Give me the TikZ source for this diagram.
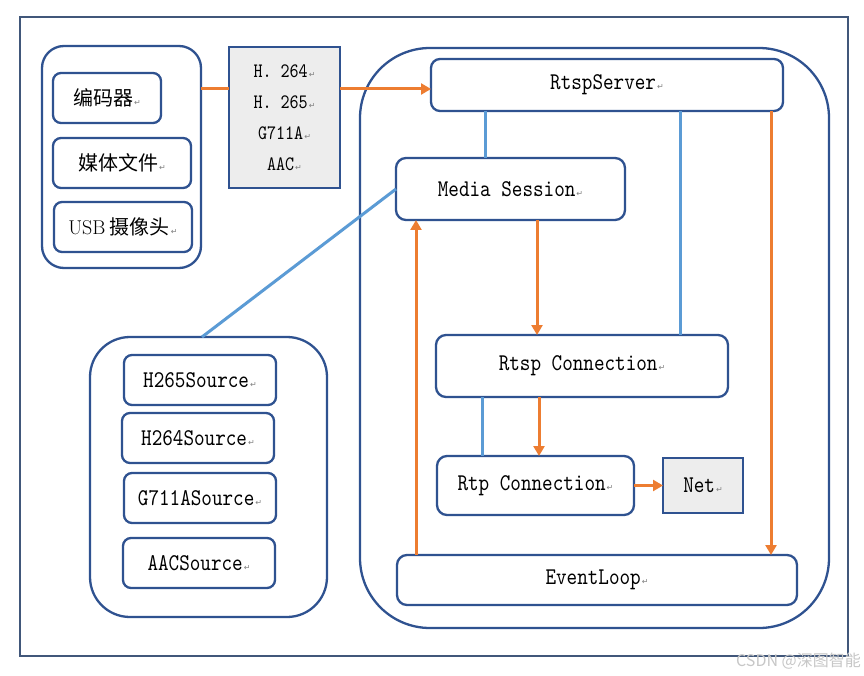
\documentclass[tikz,border=0pt]{standalone}
\usepackage{fontspec}
\newfontfamily\cjk{Noto Sans CJK SC}
\newfontfamily\symf{DejaVu Sans}
\newfontfamily\mono[FakeStretch=0.84]{lmmono10-regular.otf}
\usetikzlibrary{arrows.meta}
\definecolor{frame}{HTML}{41577A}
\definecolor{bord}{HTML}{2F5290}
\definecolor{orng}{HTML}{ED7D31}
\definecolor{blu}{HTML}{5B9BD5}
\definecolor{gfill}{HTML}{EDEDED}
\newcommand{\mk}{\hspace{1pt}{\symf\fontsize{8}{8}\selectfont\color{gray}↵}}
\tikzset{
  box/.style={draw=bord, line width=2.3pt, rounded corners=8pt, fill=white, inner sep=0pt, outer sep=0pt,
    font=\fontsize{24}{26}\mono, text=black},
  grp/.style={draw=bord, line width=2.3pt, inner sep=0pt, outer sep=0pt},
  gbox/.style={draw=bord, line width=2.3pt, fill=gfill, inner sep=0pt, outer sep=0pt, text=black},
  oline/.style={draw=orng, line width=3pt},
  oarrow/.style={draw=orng, line width=3pt, -{Triangle[length=10pt,width=11pt]}},
  bline/.style={draw=blu, line width=3pt},
}
\begin{document}
\begin{tikzpicture}[x=1pt,y=-1pt]
\useasboundingbox (0,0) rectangle (864,676);
\fill[white] (0,0) rectangle (864,676);
\draw[frame, line width=2.2pt] (20,17) rectangle (848,656);

% left top group
\node[grp, rounded corners=22pt, minimum width=159pt, minimum height=222pt] (src) at (121.5,157) {};
\node[box, font=\fontsize{20}{22}\cjk, minimum width=108pt, minimum height=50pt] (enc) at (107,98) {编码器\mk};
\node[box, font=\fontsize{20}{22}\cjk, minimum width=138pt, minimum height=50pt] (file) at (122,163) {媒体文件\mk};
\node[box, font=\fontsize{20}{22}\cjk, minimum width=138pt, minimum height=50pt] (usb) at (123,227) {{\rmfamily USB} 摄像头\mk};

% codec box
\node[gbox, minimum width=111pt, minimum height=141pt, align=center, font=\fontsize{20.5}{31}\mono] (codec) at (284.5,117.5) {H. 264\mk\\H. 265\mk\\G711A\mk\\AAC\mk};

% big right group
\node[grp, rounded corners=70pt, minimum width=469pt, minimum height=580pt] (srv) at (594.5,338) {};
\node[box, rounded corners=9pt, minimum width=352pt, minimum height=52pt] (rs) at (607,85) {RtspServer\mk};
\node[box, rounded corners=10pt, minimum width=229pt, minimum height=62pt] (ms) at (510.5,189) {Media Session\mk};
\node[box, rounded corners=10pt, minimum width=292pt, minimum height=62pt] (rc) at (582,366) {Rtsp Connection\mk};
\node[box, rounded corners=10pt, minimum width=197pt, minimum height=59pt] (rtp) at (535.5,485.5) {Rtp Connection\mk};
\node[gbox, minimum width=80pt, minimum height=55pt, font=\fontsize{24}{26}\mono] (net) at (703,485.5) {Net\mk};
\node[box, rounded corners=10pt, minimum width=400pt, minimum height=50pt] (el) at (597,580) {EventLoop\mk};

% lower left group
\node[grp, rounded corners=40pt, minimum width=237pt, minimum height=280pt] (lg) at (208.5,477) {};
\node[box, minimum width=152pt, minimum height=50pt] (h265) at (200,380) {H265Source\mk};
\node[box, minimum width=152pt, minimum height=50pt] (h264) at (198,438) {H264Source\mk};
\node[box, minimum width=152pt, minimum height=50pt] (g711) at (200,498) {G711ASource\mk};
\node[box, minimum width=152pt, minimum height=50pt] (aac) at (199,563) {AACSource\mk};

% helper coordinates
\coordinate (ya) at (0,89);
\coordinate (xa) at (485,0);
\coordinate (xb) at (680,0);
\coordinate (xc) at (771,0);
\coordinate (xd) at (537,0);
\coordinate (xe) at (416,0);
\coordinate (xf) at (482,0);
\coordinate (xg) at (539,0);
\coordinate (xh) at (202,0);

% connectors
\draw[oline] (src.east |- ya) -- (codec.west |- ya);
\draw[oarrow] (codec.east |- ya) -- (rs.west |- ya);
\draw[bline] (rs.south -| xa) -- (ms.north -| xa);
\draw[bline] (rs.south -| xb) -- (rc.north -| xb);
\draw[oarrow] (rs.south -| xc) -- (el.north -| xc);
\draw[oarrow] (ms.south -| xd) -- (rc.north -| xd);
\draw[oarrow] (el.north -| xe) -- (ms.south -| xe);
\draw[bline] (ms.west) -- (lg.north -| xh);
\draw[bline] (rc.south -| xf) -- (rtp.north -| xf);
\draw[oarrow] (rc.south -| xg) -- (rtp.north -| xg);
\draw[oarrow] (rtp.east) -- (net.west);

% watermark
\node[anchor=east, inner sep=0pt, text=black!22, font=\fontsize{16}{16}\cjk] (wm) at (861,661) {CSDN @深图智能};
\end{tikzpicture}
\end{document}
